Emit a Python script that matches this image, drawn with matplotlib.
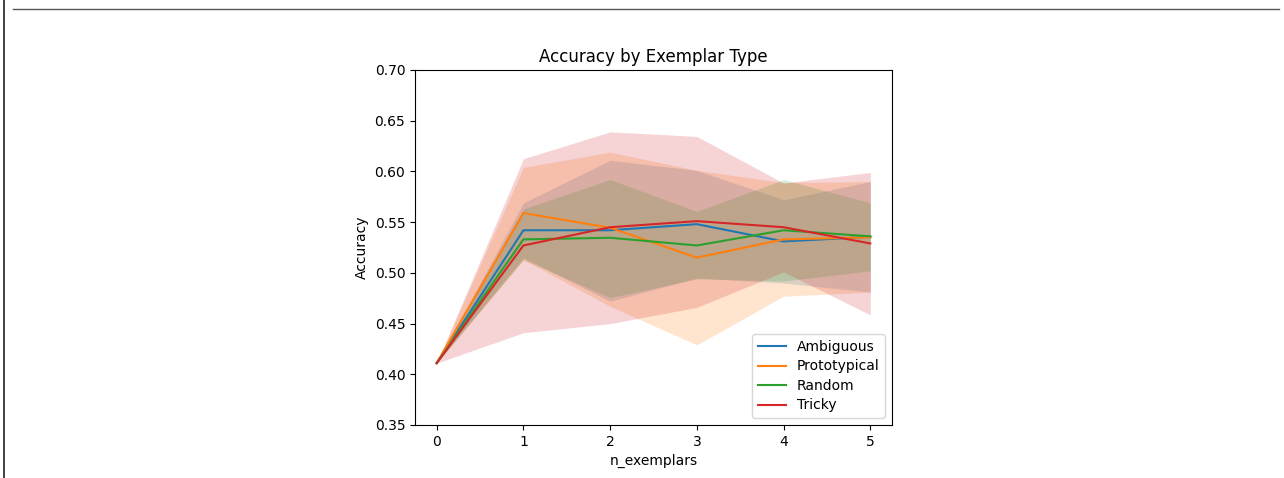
import matplotlib
matplotlib.use('Agg')
import matplotlib.pyplot as plt
from matplotlib.lines import Line2D

n_exemplars = [0, 1, 2, 3, 4, 5]
types = ['Ambiguous', 'Prototypical', 'Random', 'Tricky']
colors = ['#1f77b4', '#ff7f0e', '#2ca02c', '#d62728']

ambiguous_mean = [0.411, 0.542, 0.542, 0.548, 0.531, 0.5355]
ambiguous_lo = [0.411, 0.515, 0.472, 0.495, 0.490, 0.481]
ambiguous_hi = [0.411, 0.569, 0.611, 0.601, 0.572, 0.590]

prototypical_mean = [0.411, 0.559, 0.5445, 0.515, 0.533, 0.535]
prototypical_lo = [0.411, 0.513, 0.467, 0.429, 0.477, 0.481]
prototypical_hi = [0.411, 0.604, 0.619, 0.601, 0.589, 0.590]

random_mean = [0.411, 0.533, 0.5346, 0.527, 0.542, 0.536]
random_lo = [0.411, 0.513, 0.4756, 0.494, 0.492, 0.502]
random_hi = [0.411, 0.563, 0.592, 0.5605, 0.592, 0.569]

tricky_mean = [0.411, 0.527, 0.545, 0.551, 0.545, 0.529]
tricky_lo = [0.411, 0.441, 0.450, 0.466, 0.501, 0.4585]
tricky_hi = [0.411, 0.6125, 0.639, 0.6345, 0.5885, 0.599]

means = [ambiguous_mean, prototypical_mean, random_mean, tricky_mean]
los = [ambiguous_lo, prototypical_lo, random_lo, tricky_lo]
his = [ambiguous_hi, prototypical_hi, random_hi, tricky_hi]

fig = plt.figure(figsize=(12.84, 4.78), dpi=100)
ax = fig.add_axes([415 / 1284, 53 / 478, 477 / 1284, 355 / 478])

for name, c, m, lo, hi in zip(types, colors, means, los, his):
    ax.plot(n_exemplars, m, color=c, linewidth=1.5, label=name)
    ax.fill_between(n_exemplars, lo, hi, color=c, alpha=0.2, linewidth=0)

ax.set_ylim(0.35, 0.70)
ax.set_xticks(n_exemplars)
ax.set_title('Accuracy by Exemplar Type')
ax.set_xlabel('n_exemplars')
ax.set_ylabel('Accuracy')
ax.legend(loc='lower right', labelspacing=0.4, borderaxespad=0.5)

# page borders visible in the reference
fig.add_artist(Line2D([13 / 1284, 1279 / 1284], [1 - 9 / 478, 1 - 9 / 478],
                      color='#555555', linewidth=1.0))
fig.add_artist(Line2D([4 / 1284, 4 / 1284], [0, 1], color='#222222', linewidth=1.2))

plt.savefig('out.png', dpi=100)
